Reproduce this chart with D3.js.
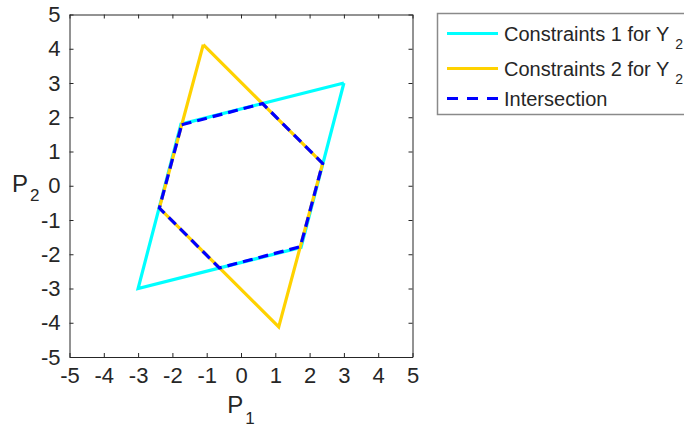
<!DOCTYPE html>
<html>
<head>
<meta charset="utf-8">
<script src="https://cdn.jsdelivr.net/npm/d3@7"></script>
<style>
  body { margin: 0; background: #fff; }
  text { font-family: "Liberation Sans", Arial, sans-serif; fill: #262626; }
</style>
</head>
<body>
<div id="main"></div>
<script>
// chart values
var cyanP1 = [3, -1.75, -3, 1.75, 3];
var cyanP2 = [3, 1.8, -3, -1.8, 3];
var yellowP1 = [-1.1, 2.38, 1.1, -2.38, -1.1];
var yellowP2 = [4.12, 0.65, -4.12, -0.65, 4.12];
var interP1 = [-1.73, 0.63, 2.38, 1.73, -0.63, -2.38, -1.73];
var interP2 = [1.78, 2.4, 0.65, -1.78, -2.4, -0.65, 1.78];
var tickValues = [-5, -4, -3, -2, -1, 0, 1, 2, 3, 4, 5];
var legendLabels = ['Constraints 1 for Y', 'Constraints 2 for Y', 'Intersection'];
var legendSubs = ['2', '2', ''];

// layout
var svgWidth = 684;
var svgHeight = 428;
var box = { l: 69.5, r: 412.5, t: 14.5, b: 357 };

var svg = d3.select('#main')
  .append('svg')
  .attr('width', svgWidth)
  .attr('height', svgHeight);

var xScale = d3.scaleLinear().domain([-5, 5]).range([box.l, box.r]);
var yScale = d3.scaleLinear().domain([-5, 5]).range([box.b, box.t]);

var fmt = function (d) { return String(d); };

// axes, ticks pointing inwards on all four sides
function styleAxis(g) {
  g.selectAll('path, line').attr('stroke', '#262626').attr('stroke-width', 1);
  g.selectAll('text').style('font-size', '22px').attr('fill', '#262626')
    .style('font-family', '"Liberation Sans", Arial, sans-serif');
}

svg.append('g')
  .attr('transform', 'translate(0,' + box.b + ')')
  .call(d3.axisBottom(xScale).tickValues(tickValues).tickFormat(fmt)
    .tickSizeInner(-4).tickSizeOuter(0).tickPadding(10))
  .call(styleAxis);

svg.append('g')
  .attr('transform', 'translate(0,' + box.t + ')')
  .call(d3.axisTop(xScale).tickValues(tickValues).tickFormat('')
    .tickSizeInner(-4).tickSizeOuter(0))
  .call(styleAxis);

svg.append('g')
  .attr('transform', 'translate(' + box.l + ',0)')
  .call(d3.axisLeft(yScale).tickValues(tickValues).tickFormat(fmt)
    .tickSizeInner(-4).tickSizeOuter(0).tickPadding(9))
  .call(styleAxis);

svg.append('g')
  .attr('transform', 'translate(' + box.r + ',0)')
  .call(d3.axisRight(yScale).tickValues(tickValues).tickFormat('')
    .tickSizeInner(-4).tickSizeOuter(0))
  .call(styleAxis);

// axis labels
var xLabel = svg.append('text')
  .attr('x', (box.l + box.r) / 2)
  .attr('y', 413)
  .attr('text-anchor', 'middle')
  .style('font-size', '24px');
xLabel.append('tspan').text('P');
xLabel.append('tspan').attr('dy', 11).attr('dx', 2).style('font-size', '17px').text('1');

var yLabel = svg.append('text')
  .attr('x', 12)
  .attr('y', 192)
  .style('font-size', '24px');
yLabel.append('tspan').text('P');
yLabel.append('tspan').attr('dy', 9).attr('dx', 2).style('font-size', '17px').text('2');

// polygons
var line = d3.line()
  .x(function (d) { return xScale(d[0]); })
  .y(function (d) { return yScale(d[1]); });

var plotG = svg.append('g');

plotG.append('path')
  .attr('d', line(d3.zip(cyanP1, cyanP2)))
  .attr('fill', 'none')
  .attr('stroke', '#00ffff')
  .attr('stroke-width', 3.2)
  .attr('stroke-linejoin', 'miter');

plotG.append('path')
  .attr('d', line(d3.zip(yellowP1, yellowP2)))
  .attr('fill', 'none')
  .attr('stroke', '#ffd200')
  .attr('stroke-width', 3.2)
  .attr('stroke-linejoin', 'miter');

plotG.append('path')
  .attr('d', line(d3.zip(interP1, interP2)))
  .attr('fill', 'none')
  .attr('stroke', '#0000ff')
  .attr('stroke-width', 3.2)
  .attr('stroke-dasharray', '10,6');

// legend
var legendG = svg.append('g');
legendG.append('rect')
  .attr('x', 437.5)
  .attr('y', 13.5)
  .attr('width', 270)
  .attr('height', 101)
  .attr('fill', '#fff')
  .attr('stroke', '#8a8a8a')
  .attr('stroke-width', 1.5);

var legendColors = ['#00ffff', '#ffd200', '#0000ff'];
var legendDash = [null, null, '11,9'];
var legendY = [33.5, 68.5, 98.5];

legendLabels.forEach(function (label, i) {
  legendG.append('line')
    .attr('x1', 447).attr('x2', 498)
    .attr('y1', legendY[i]).attr('y2', legendY[i])
    .attr('stroke', legendColors[i])
    .attr('stroke-width', 3.2)
    .attr('stroke-dasharray', legendDash[i]);

  var t = legendG.append('text')
    .attr('x', 504)
    .attr('y', legendY[i] + 7)
    .style('font-size', '20px');
  t.append('tspan').text(label);
  if (legendSubs[i]) {
    t.append('tspan').attr('dy', 8).attr('dx', 6).style('font-size', '14px').text(legendSubs[i]);
  }
});
</script>
</body>
</html>
